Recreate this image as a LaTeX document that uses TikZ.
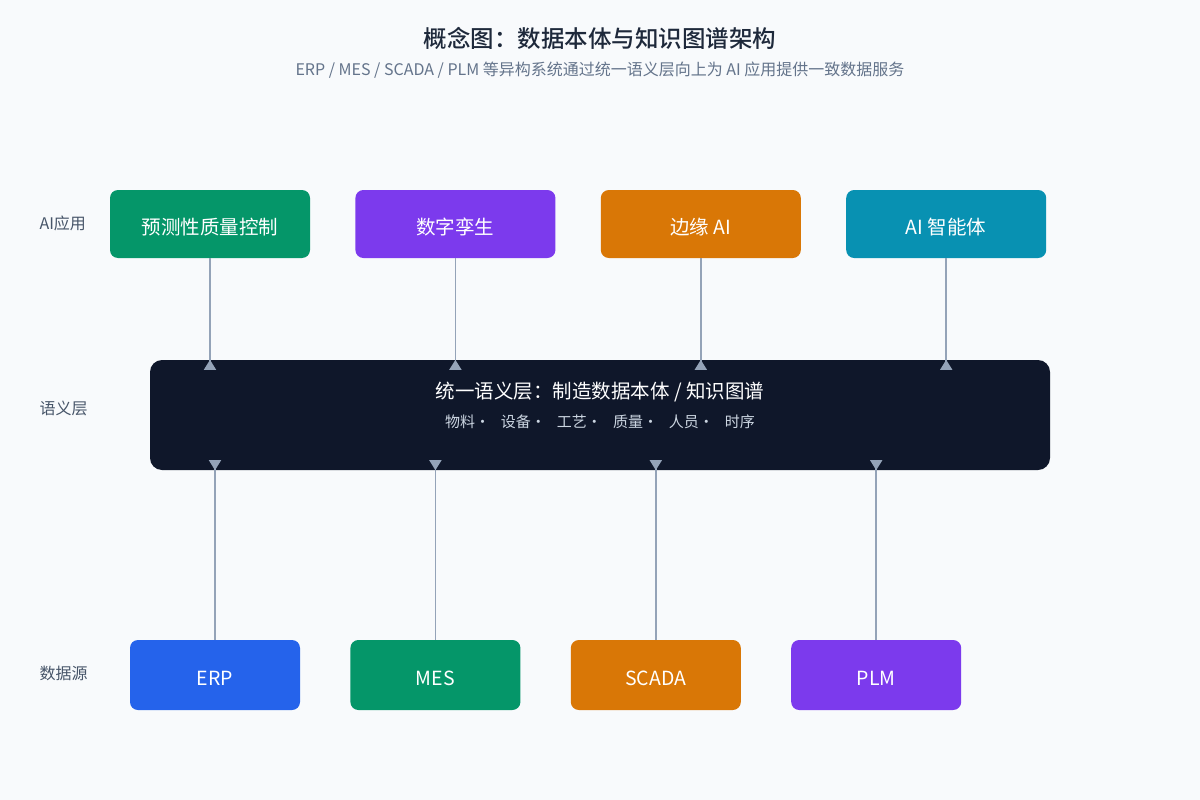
\documentclass[tikz,border=0pt]{standalone}
\usepackage{fontspec}
\setmainfont{Noto Sans CJK SC}
\newfontfamily\headfont{Noto Sans CJK SC Medium}
\usepackage{xcolor}
\usetikzlibrary{positioning,arrows.meta,calc}

\definecolor{pagebg}{HTML}{F8FAFC}
\definecolor{titleink}{HTML}{1E293B}
\definecolor{subink}{HTML}{64748B}
\definecolor{tierink}{HTML}{475569}
\definecolor{linkink}{HTML}{94A3B8}
\definecolor{layerbg}{HTML}{0F172A}
\definecolor{itemink}{HTML}{CBD5E1}
\definecolor{cgreen}{HTML}{059669}
\definecolor{cpurple}{HTML}{7C3AED}
\definecolor{corange}{HTML}{D97706}
\definecolor{ccyan}{HTML}{0891B2}
\definecolor{cblue}{HTML}{2563EB}

\begin{document}
\begin{tikzpicture}[
    x=1pt, y=-1pt,
    node distance=45pt,
    app/.style={rectangle, rounded corners=8pt, fill=#1, minimum width=200pt, minimum height=68pt, text height=22pt, text depth=1pt, text=white, font=\fontsize{19.5}{23}\selectfont},
    src/.style={rectangle, rounded corners=8pt, fill=#1, minimum width=170pt, minimum height=70pt, text height=22pt, text depth=1pt, text=white, font=\fontsize{19.5}{23}\selectfont},
    tier/.style={anchor=west, text=tierink, font=\fontsize{16}{19}\selectfont},
    link/.style={draw=linkink, line width=1.5pt, -{Triangle[reversed, width=12pt, length=10pt]}}
]
    % Canvas
    \fill[pagebg] (0,0) rectangle (1200,800);

    % Heading
    \node[text=titleink, font=\fontsize{23.5}{28}\headfont] (title) at (600,38) {概念图：数据本体与知识图谱架构};
    \node[text=subink, font=\fontsize{16}{19}\selectfont] (subtitle) at (600,70) {ERP / MES / SCADA / PLM 等异构系统通过统一语义层向上为 AI 应用提供一致数据服务};

    % Tier labels
    \node[tier] (tapp) at (36,223) {AI应用};
    \node[tier] (tsem) at (36,408) {语义层};
    \node[tier] (tsrc) at (36,673) {数据源};

    % AI applications
    \node[app=cgreen] (qc) at (210,224) {预测性质量控制};
    \node[app=cpurple, right=of qc] (twin) {数字孪生};
    \node[app=corange, right=of twin] (edge) {边缘 AI};
    \node[app=ccyan, right=of edge] (agent) {AI 智能体};

    % Semantic layer
    \node[rectangle, rounded corners=12pt, fill=layerbg, minimum width=900pt, minimum height=110pt] (layer) at (600,415) {};
    \node[text=white, font=\fontsize{19.5}{23}\selectfont] (layername) at (600,392) {统一语义层：制造数据本体 / 知识图谱};
    \node[text=itemink, font=\fontsize{15}{18}\selectfont] (layeritems) at (600,422) {物料·\hspace{11pt}设备·\hspace{11pt}工艺·\hspace{11pt}质量·\hspace{11pt}人员·\hspace{11pt}时序};

    % Data sources
    \node[src=cblue] (erp) at (215,675) {ERP};
    \node[src=cgreen, right=50pt of erp] (mes) {MES};
    \node[src=corange, right=50pt of mes] (scada) {SCADA};
    \node[src=cpurple, right=50pt of scada] (plm) {PLM};

    % Arrow ends inside the layer
    \foreach \n in {qc,twin,edge,agent}
        \coordinate (\n-in) at ($(\n.south |- layer.north)+(0,10)$);
    \foreach \n in {erp,mes,scada,plm}
        \coordinate (\n-in) at ($(\n.north |- layer.south)+(0,-10)$);

    % Connectors
    \foreach \n in {qc,twin,edge,agent}
        \draw[link] (\n.south) -- (\n-in);
    \foreach \n in {erp,mes,scada,plm}
        \draw[link] (\n.north) -- (\n-in);

\end{tikzpicture}
\end{document}
